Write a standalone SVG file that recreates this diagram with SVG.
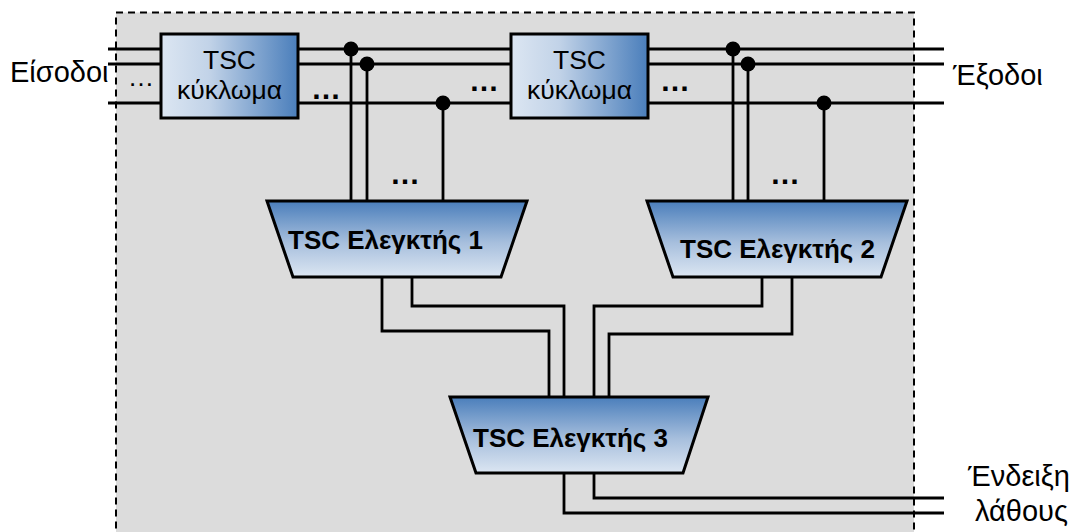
<svg xmlns="http://www.w3.org/2000/svg" width="1077" height="532" viewBox="0 0 1077 532">
<defs>
<linearGradient id="gBox" x1="0" y1="0" x2="1" y2="0">
<stop offset="0" stop-color="#dce6f2"/>
<stop offset="0.35" stop-color="#c2d3e8"/>
<stop offset="1" stop-color="#4a7ebb"/>
</linearGradient>
<linearGradient id="gCtl" x1="0" y1="0" x2="0" y2="1">
<stop offset="0" stop-color="#4a7ebb"/>
<stop offset="0.55" stop-color="#a7bfdd"/>
<stop offset="1" stop-color="#dce6f2"/>
</linearGradient>
<style>
.w{fill:none;stroke:#000;stroke-width:2.8}
.shape{stroke:#000;stroke-width:3}
.t{font-family:"Liberation Sans",Arial,sans-serif;font-size:26.5px;fill:#000}
.l{font-family:"Liberation Sans",Arial,sans-serif;font-size:29px;fill:#000}
.b{font-family:"Liberation Sans",Arial,sans-serif;font-size:26px;font-weight:bold;fill:#000}
.d{font-family:"Liberation Sans",Arial,sans-serif;font-size:30px;font-weight:bold;fill:#000;text-anchor:middle}
</style>
</defs>
<rect id="boundary" x="116" y="12.5" width="798" height="540" fill="#dcdcdc" stroke="#000" stroke-width="2" stroke-dasharray="7,5"/>
<g id="connectors">
<path class="w" d="M108 49H161M108 64H161M108 103H161"/>
<path class="w" d="M298 49H511M298 64H511M298 103H511"/>
<path class="w" d="M648 49H944M648 64H944M648 103H944"/>
<path class="w" d="M351 49V201M367 64V201M443 103V201"/>
<path class="w" d="M733 49V201M748 64V201M824 103V201"/>
<path class="w" d="M382 277V331H549V397M412 277V306H564V397"/>
<path class="w" d="M762 277V306H594V397M792 277V334H609V397"/>
<path class="w" d="M564 473V513H944M594 473V498H944"/>
<g fill="#000">
<circle cx="351" cy="49" r="7.5"/>
<circle cx="367" cy="64" r="7.5"/>
<circle cx="443" cy="103" r="7.5"/>
<circle cx="733" cy="49" r="7.5"/>
<circle cx="748" cy="64" r="7.5"/>
<circle cx="824" cy="103" r="7.5"/>
</g>
<text class="t" x="141" y="86" text-anchor="middle">…</text>
<text class="d" x="326" y="99">…</text>
<text class="d" x="484" y="91">…</text>
<text class="d" x="675" y="91">…</text>
<text class="d" x="405" y="184">…</text>
<text class="d" x="785" y="184">…</text>
</g>
<g id="circuit1">
<rect class="shape" x="161" y="34" width="137" height="84" fill="url(#gBox)"/>
<text class="t" x="229.5" y="69" text-anchor="middle">TSC</text>
<text class="t" x="229.5" y="99" text-anchor="middle">κύκλωμα</text>
</g>
<g id="circuit2">
<rect class="shape" x="511" y="34" width="137" height="84" fill="url(#gBox)"/>
<text class="t" x="579.5" y="69" text-anchor="middle">TSC</text>
<text class="t" x="579.5" y="99" text-anchor="middle">κύκλωμα</text>
</g>
<g id="checker1">
<polygon class="shape" points="267,201 527,201 501,277 293,277" fill="url(#gCtl)"/>
<text class="b" x="288" y="249">TSC Ελεγκτής 1</text>
</g>
<g id="checker2">
<polygon class="shape" points="647,201 907,201 881,277 673,277" fill="url(#gCtl)"/>
<text class="b" x="680" y="258">TSC Ελεγκτής 2</text>
</g>
<g id="checker3">
<polygon class="shape" points="450,397 708,397 683,473 476,473" fill="url(#gCtl)"/>
<text class="b" x="473" y="447">TSC Ελεγκτής 3</text>
</g>
<g id="labels">
<text class="l" x="10" y="82">Είσοδοι</text>
<text class="l" x="953" y="85">Έξοδοι</text>
<text class="l" x="968" y="486">Ένδειξη</text>
<text class="l" x="975" y="521">λάθους</text>
</g>
</svg>
